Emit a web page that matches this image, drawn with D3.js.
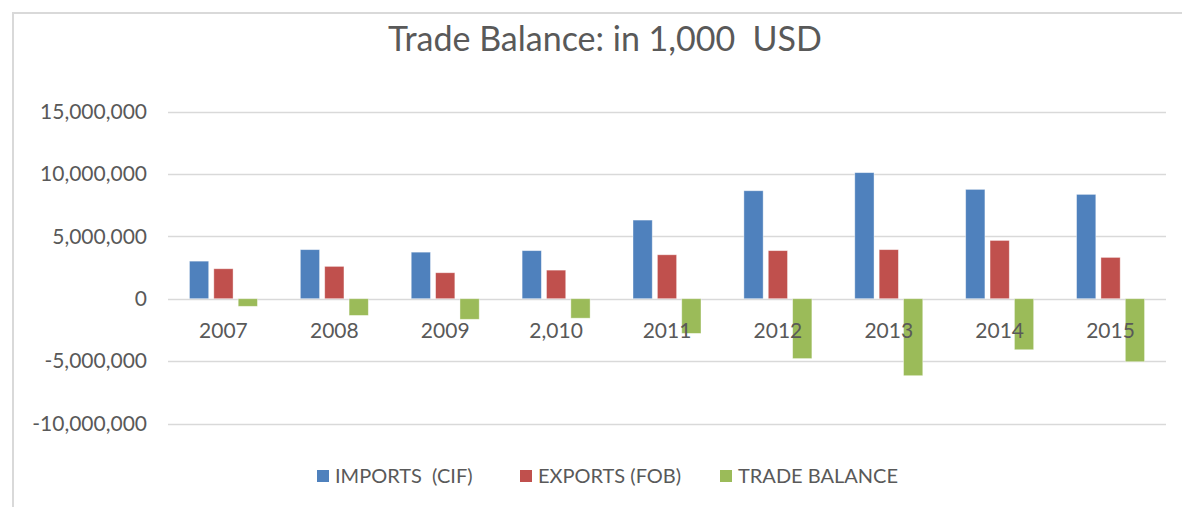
<!DOCTYPE html>
<html><head><meta charset="utf-8">
<script src="https://cdn.jsdelivr.net/npm/d3@7"></script>
<style>
html,body{margin:0;padding:0;background:#fff;}
svg{display:block;font-family:Lato, "Open Sans", sans-serif;}
text{white-space:pre;}
</style></head>
<body><svg id="c" width="1182" height="507"></svg>
<script>
const categories = ["2007","2008","2009","2,010","2011","2012","2013","2014","2015"];
const imports = [3010000,3930000,3730000,3850000,6300000,8650000,10100000,8760000,8360000];
const exportsFob = [2400000,2590000,2080000,2290000,3520000,3850000,3930000,4670000,3310000];
const tradeBalance = [-610000,-1340000,-1650000,-1560000,-2780000,-4800000,-6170000,-4090000,-5050000];
const seriesNames = ["IMPORTS  (CIF)","EXPORTS (FOB)","TRADE BALANCE"];
const seriesColors = ["#4F81BD","#C0504D","#9BBB59"];
const yTicks = [-10000000,-5000000,0,5000000,10000000,15000000];
const title = "Trade Balance: in 1,000  USD";

const seriesValues = [imports, exportsFob, tradeBalance];
const svg = d3.select("#c");
const textColor = "#595959";

// frame
svg.append("path").attr("d","M13,507 V13 H1182").attr("fill","none").attr("stroke","#D9D9D9").attr("stroke-width",2);

const x = d3.scaleBand().domain(categories).range([168,1166]).paddingInner(0).paddingOuter(0);
const y = d3.scaleLinear().domain([-10000000,15000000]).range([423.5,111.5]);
const xs = d3.scaleBand().domain(d3.range(3)).range([-34,34]).paddingInner(0.21).paddingOuter(0);

// gridlines
svg.append("g").selectAll("line").data(yTicks).join("line")
  .attr("x1",168).attr("x2",1166)
  .attr("y1",d=>Math.round(y(d))+0.5).attr("y2",d=>Math.round(y(d))+0.5)
  .attr("stroke","#D9D9D9").attr("stroke-width",1.3);

// y labels
const fmt0 = d3.format(",");
const fmt = d => fmt0(d).replace("\u2212","-");
svg.append("g").selectAll("text").data(yTicks).join("text")
  .attr("x",147).attr("y",d=>y(d)).attr("dy","0.35em")
  .attr("text-anchor","end").attr("fill",textColor).attr("font-size",21)
  .text(d=>fmt(d));

// bars
const data = [];
categories.forEach((c,i)=>seriesValues.forEach((s,j)=>data.push({c,j,v:s[i]})));
svg.append("g").selectAll("rect").data(data).join("rect")
  .attr("x",d=>x(d.c)+x.bandwidth()/2+xs(d.j))
  .attr("width",xs.bandwidth())
  .attr("y",d=>Math.min(y(d.v),y(0)))
  .attr("height",d=>Math.abs(y(d.v)-y(0)))
  .attr("fill",d=>seriesColors[d.j])
  .attr("stroke","#fff").attr("stroke-opacity",0.5).attr("stroke-width",0.8);

// category labels
svg.append("g").selectAll("text").data(categories).join("text")
  .attr("x",d=>x(d)+x.bandwidth()/2).attr("y",338)
  .attr("text-anchor","middle").attr("fill",textColor).attr("font-size",21)
  .text(d=>d);

// title
svg.append("text").attr("x",605).attr("y",51).attr("text-anchor","middle")
  .attr("fill",textColor).attr("font-size",34).text(title);

// legend
const legendX = [317,520,720];
const lg = svg.append("g").selectAll("g").data(seriesNames).join("g")
  .attr("transform",(d,i)=>`translate(${legendX[i]},476)`);
lg.append("rect").attr("x",0).attr("y",-6).attr("width",12).attr("height",12).attr("fill",(d,i)=>seriesColors[i]);
lg.append("text").attr("x",18).attr("y",0).attr("dy","0.35em").attr("fill",textColor).attr("font-size",20)
  .text(d=>d);
</script></body></html>
